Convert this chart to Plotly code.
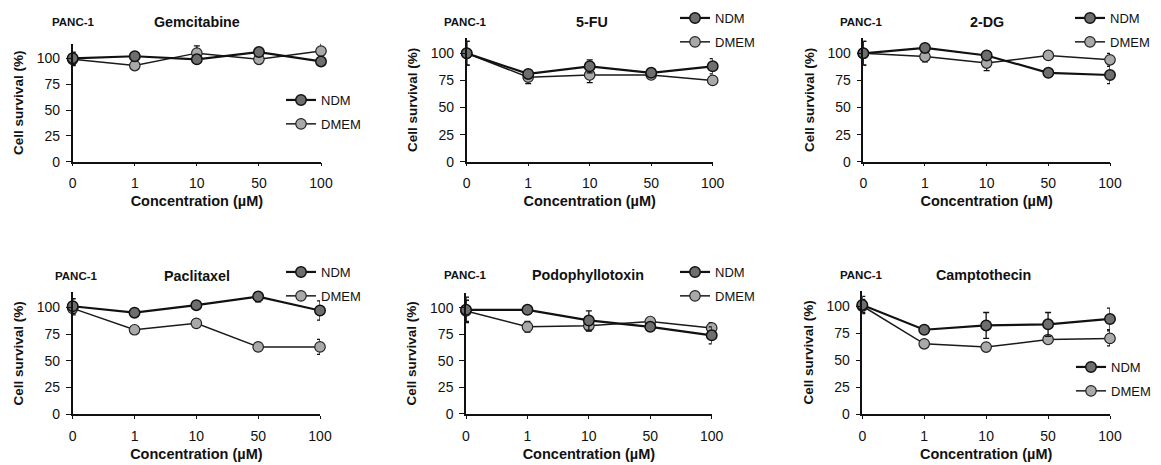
import plotly.graph_objects as go

concentrations = ["0", "1", "10", "50", "100"]
y_ticks = [0, 25, 50, 75, 100]

drugs = ["Gemcitabine", "5-FU", "2-DG", "Paclitaxel", "Podophyllotoxin", "Camptothecin"]

gem_ndm = [100, 102, 99, 106, 97]
gem_ndm_err = [6, 2, 2, 2, 2]
gem_dmem = [99, 93, 105, 99, 107]
gem_dmem_err = [6, 2, 7, 3, 12]

fu_ndm = [100, 81, 88, 82, 88]
fu_ndm_err = [11, 2, 6, 2, 7]
fu_dmem = [100, 78, 80, 80, 75]
fu_dmem_err = [11, 6, 7, 2, 2]

dg_ndm = [100, 105, 98, 82, 80]
dg_ndm_err = [11, 3, 2, 2, 8]
dg_dmem = [100, 97, 91, 98, 94]
dg_dmem_err = [11, 5, 7, 2, 6]

pac_ndm = [101, 95, 102, 110, 97]
pac_ndm_err = [7, 2, 3, 5, 9]
pac_dmem = [99, 79, 85, 63, 63]
pac_dmem_err = [6, 2, 3, 4, 7]

pod_ndm = [98, 98, 88, 82, 74]
pod_ndm_err = [12, 2, 9, 2, 8]
pod_dmem = [97, 82, 83, 87, 81]
pod_dmem_err = [10, 5, 5, 2, 5]

cam_ndm = [101, 78, 82, 83, 88]
cam_ndm_err = [8, 2, 12, 11, 10]
cam_dmem = [100, 65, 62, 69, 70]
cam_dmem_err = [6, 2, 2, 2, 7]

ndm_series = [gem_ndm, fu_ndm, dg_ndm, pac_ndm, pod_ndm, cam_ndm]
ndm_errors = [gem_ndm_err, fu_ndm_err, dg_ndm_err, pac_ndm_err, pod_ndm_err, cam_ndm_err]
dmem_series = [gem_dmem, fu_dmem, dg_dmem, pac_dmem, pod_dmem, cam_dmem]
dmem_errors = [gem_dmem_err, fu_dmem_err, dg_dmem_err, pac_dmem_err, pod_dmem_err, cam_dmem_err]

# the page body has an 8px margin: the figure is drawn offset by it
OFF = 8
W, H = 1161 - OFF, 465 - OFF
YMAX = 114

# pixel layout in the window: (x_left, x_right, y_zero_px, y_hundred_px)
panels = [
    (72.7, 321.0, 161.7, 58.3),
    (466.7, 712.7, 161.7, 53.3),
    (863.3, 1110.0, 161.7, 53.3),
    (72.7, 320.0, 414.3, 307.3),
    (466.0, 711.7, 414.0, 307.7),
    (862.3, 1110.0, 414.0, 306.0),
]
# legend positions: (text-left px, first-item centre y px)
legend_pos = [
    (322, 100), (716, 18), (1111, 18),
    (322, 272), (716, 272), (1112, 367),
]
# title rows: (PANC-1 left px, drug title centre px, y px)
title_pos = [
    (50, 197, 22), (442, 592, 22), (838, 987, 22),
    (53, 197, 276), (442, 588, 275), (838, 983, 275),
]

FONT = "Liberation Sans, Arial, sans-serif"
NDM_FILL = "#6e6e6e"
DMEM_FILL = "#a9a9a9"


def fx(px):
    return (px - OFF) / W


def fy(py):
    return 1 - (py - OFF) / H


fig = go.Figure()
xs = list(range(len(concentrations)))

for i in range(6):
    xa = "x" if i == 0 else f"x{i+1}"
    ya = "y" if i == 0 else f"y{i+1}"
    lg = "legend" if i == 0 else f"legend{i+1}"
    fig.add_trace(go.Scatter(
        x=xs, y=dmem_series[i], xaxis=xa, yaxis=ya, name="DMEM",
        mode="lines+markers", legend=lg, legendgroup=f"d{i}", legendrank=2,
        line=dict(color="#1a1a1a", width=1.5),
        marker=dict(size=10.5, color=DMEM_FILL, line=dict(color="#222", width=1.2)),
        error_y=dict(type="data", array=dmem_errors[i], color="#111", thickness=1.3, width=3),
        cliponaxis=False,
    ))
    fig.add_trace(go.Scatter(
        x=xs, y=ndm_series[i], xaxis=xa, yaxis=ya, name="NDM",
        mode="lines+markers", legend=lg, legendgroup=f"n{i}", legendrank=1,
        line=dict(color="#111", width=2.2),
        marker=dict(size=10.5, color=NDM_FILL, line=dict(color="#111", width=1.5)),
        error_y=dict(type="data", array=ndm_errors[i], color="#111", thickness=1.3, width=3),
        cliponaxis=False,
    ))

layout = dict(
    width=W, height=H, autosize=False,
    margin=dict(l=0, r=0, t=0, b=0, autoexpand=False),
    paper_bgcolor="white", plot_bgcolor="white",
    font=dict(family=FONT, color="#111", size=13),
    showlegend=True,
)
annotations = []
for i, (xl, xr, y0, y100) in enumerate(panels):
    sfx = "" if i == 0 else str(i + 1)
    scale = (y0 - y100) / 100.0
    ytop = y0 - YMAX * scale
    layout["xaxis" + sfx] = dict(
        domain=[fx(xl), fx(xr)], anchor="y" + sfx, automargin=False,
        range=[0, 4], tickvals=xs, ticktext=concentrations,
        showgrid=False, zeroline=False, showline=True, linecolor="#111", linewidth=1.5,
        ticks="outside", ticklen=3, tickcolor="#111", tickwidth=1.2,
        ticklabelstandoff=5,
        tickfont=dict(size=14, family=FONT, color="#111"),
        title=dict(text="<b>Concentration (µM)</b>", font=dict(size=14.5, family=FONT), standoff=6),
        fixedrange=True,
    )
    layout["yaxis" + sfx] = dict(
        domain=[fy(y0), fy(ytop)], anchor="x" + sfx, automargin=False,
        range=[0, YMAX], tickvals=y_ticks,
        showgrid=False, zeroline=False, showline=True, linecolor="#111", linewidth=1.5,
        ticks="outside", ticklen=5, tickcolor="#111", tickwidth=1.2,
        ticklabelstandoff=3,
        tickfont=dict(size=14, family=FONT, color="#111"),
        title=dict(text="<b>Cell survival (%)</b>", font=dict(size=13.5, family=FONT), standoff=10),
        fixedrange=True,
    )
    tx, ty = legend_pos[i]
    layout["legend" + sfx] = dict(
        x=fx(tx - 41), y=fy(ty - 15), xanchor="left", yanchor="top",
        bgcolor="rgba(0,0,0,0)", font=dict(size=13, family=FONT, color="#111"),
        itemwidth=30, traceorder="grouped", tracegroupgap=4,
    )
    px, cx, py = title_pos[i]
    annotations.append(dict(
        xref="paper", yref="paper", x=fx(px), y=fy(py),
        xanchor="left", yanchor="middle", showarrow=False,
        text="<b>PANC-1</b>", font=dict(size=11.5, family=FONT, color="#111"),
    ))
    annotations.append(dict(
        xref="paper", yref="paper", x=fx(cx), y=fy(py),
        xanchor="center", yanchor="middle", showarrow=False,
        text=f"<b>{drugs[i]}</b>", font=dict(size=14.3, family=FONT, color="#111"),
    ))
layout["annotations"] = annotations
fig.update_layout(**layout)

fig.write_html("out.html")
